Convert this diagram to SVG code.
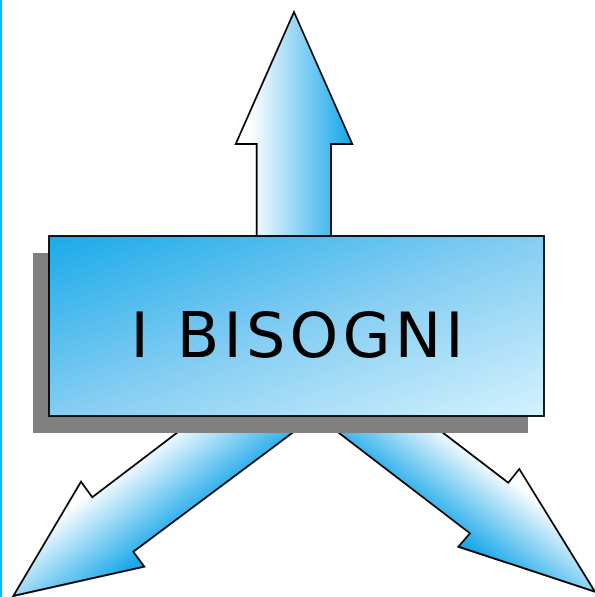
<svg xmlns="http://www.w3.org/2000/svg" width="595" height="597" viewBox="0 0 595 597">
<style>
.arrow{stroke:#000;stroke-width:1.8;stroke-linejoin:miter}
.label{font-family:"DejaVu Sans","Liberation Sans",sans-serif;font-size:62px;fill:#000}
</style>
<defs>
<linearGradient id="gUp" gradientUnits="userSpaceOnUse" x1="250" y1="0" x2="348" y2="0">
<stop offset="0" stop-color="#ffffff"/><stop offset="1" stop-color="#1ca9ea"/>
</linearGradient>
<linearGradient id="gLeft" gradientUnits="userSpaceOnUse" x1="81" y1="482" x2="145" y2="566">
<stop offset="0.12" stop-color="#ffffff"/><stop offset="0.92" stop-color="#1ca9ea"/>
</linearGradient>
<linearGradient id="gRight" gradientUnits="userSpaceOnUse" x1="458" y1="547" x2="518" y2="468">
<stop offset="0.08" stop-color="#1ca9ea"/><stop offset="0.88" stop-color="#ffffff"/>
</linearGradient>
<linearGradient id="gBox" x1="0" y1="0" x2="1" y2="1">
<stop offset="0" stop-color="#1aaae9"/><stop offset="0.5" stop-color="#84cdf2"/><stop offset="1" stop-color="#d4f2fd"/>
</linearGradient>
</defs>
<rect x="0" y="0" width="2" height="597" fill="#00bff5"/>
<g id="connectors">
<path id="arrow-up" class="arrow" fill="url(#gUp)" d="M294,12 L352.3,144 L331,144 L331,240 L256.7,240 L256.7,144 L235.7,144 Z"/>
<path id="arrow-left" class="arrow" fill="url(#gLeft)" d="M187.2,425 L92.3,497.3 L81,481.7 L13.3,596 L144.3,566.7 L133.3,551.7 L303,425 Z"/>
<path id="arrow-right" class="arrow" fill="url(#gRight)" d="M328.6,425 L470,533.3 L458.3,546.7 L595,591.7 L519.3,469 L508.3,482.7 L432.8,425 Z"/>
</g>
<g id="node-bisogni">
<rect x="33" y="253" width="495" height="180" fill="#808080"/>
<rect x="49" y="236" width="495" height="180" fill="url(#gBox)" stroke="#000" stroke-width="1.8"/>
<text class="label" x="297" y="357" text-anchor="middle" textLength="333" lengthAdjust="spacing">I BISOGNI</text>
</g>
</svg>
